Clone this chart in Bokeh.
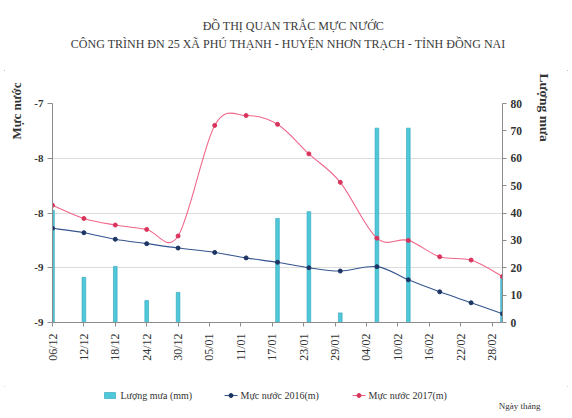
import numpy as np
from math import pi
from bokeh.plotting import figure
from bokeh.layouts import column, row
from bokeh.models import LinearAxis, Range1d, FixedTicker, Title
from bokeh.core.properties import value
from bokeh.embed import file_html
from bokeh.resources import INLINE

# ---------------- data ----------------
dates = ["2016-12-06", "2016-12-12", "2016-12-18", "2016-12-24", "2016-12-30",
         "2017-01-06", "2017-01-12", "2017-01-18", "2017-01-24", "2017-01-30",
         "2017-02-06", "2017-02-12", "2017-02-18", "2017-02-24", "2017-03-02"]
level_2016 = [-8.14, -8.18, -8.24, -8.28, -8.32, -8.36, -8.41, -8.45, -8.50, -8.53,
              -8.49, -8.61, -8.72, -8.82, -8.92]
level_2017 = [-7.93, -8.05, -8.11, -8.15, -8.21, -7.20, -7.11, -7.19, -7.46, -7.72,
              -8.23, -8.25, -8.40, -8.43, -8.58]
rain_mm = [41, 16.5, 20.5, 8, 11, 0, 0, 38, 40.5, 3.5, 71, 71, 0, 0, 16.5]

tick_dates = ["2016-12-06", "2016-12-12", "2016-12-18", "2016-12-24", "2016-12-30",
              "2017-01-05", "2017-01-11", "2017-01-17", "2017-01-23", "2017-01-29",
              "2017-02-04", "2017-02-10", "2017-02-16", "2017-02-22", "2017-02-28"]
tick_labels = ["06/12", "12/12", "18/12", "24/12", "30/12", "05/01", "11/01", "17/01",
               "23/01", "29/01", "04/02", "10/02", "16/02", "22/02", "28/02"]
level_ticks = [-9, -8.5, -8, -7.5, -7]
level_tick_labels = ["-9", "-9", "-8", "-8", "-7"]
rain_ticks = [0, 10, 20, 30, 40, 50, 60, 70, 80]

title_1 = "ĐỒ THỊ QUAN TRẮC MỰC NƯỚC"
title_2 = "CÔNG TRÌNH ĐN 25 XÃ PHÚ THẠNH - HUYỆN NHƠN TRẠCH - TỈNH ĐỒNG NAI"
left_title = "Mực nước"
right_title = "Lượng mưa"
x_title = "Ngày tháng"
series_names = ["Lượng mưa (mm)", "Mực nước 2016(m)", "Mực nước 2017(m)"]

# ---------------- style ----------------
FONT = "Liberation Serif"
DAY = 86400000.0
AX_COL = "#8c8c8c"
LAB_COL = "#333333"
BAR_FILL, BAR_LINE = "#4fc8da", "#2aa3b8"
C16, M16 = "#34558f", "#1d3563"
C17, M17 = "#f0668a", "#d9345c"


def to_ms(ds):
    return [int(v) for v in np.array(ds, dtype="datetime64[ms]").astype("int64")]


def smooth(x, y):
    n = len(x)
    out = dict(x0=[], y0=[], x1=[], y1=[], cx0=[], cy0=[], cx1=[], cy1=[])
    for i in range(n - 1):
        a = max(i - 1, 0)
        d = min(i + 2, n - 1)
        out["x0"].append(x[i]); out["y0"].append(y[i])
        out["x1"].append(x[i + 1]); out["y1"].append(y[i + 1])
        out["cx0"].append(x[i] + (x[i + 1] - x[a]) / 6)
        out["cy0"].append(y[i] + (y[i + 1] - y[a]) / 6)
        out["cx1"].append(x[i + 1] - (x[d] - x[i]) / 6)
        out["cy1"].append(y[i + 1] - (y[d] - y[i]) / 6)
    return out


def blank(w, h):
    f = figure(width=w, height=h, output_backend="svg", toolbar_location=None, title=None,
               x_range=Range1d(0, w), y_range=Range1d(0, h),
               x_axis_location=None, y_axis_location=None,
               min_border=0, min_border_left=0, min_border_right=0,
               min_border_top=0, min_border_bottom=0,
               background_fill_color="white", border_fill_color="white",
               outline_line_color=None)
    f.grid.visible = False
    return f


def put_text(f, h, x, y_down, txt, size, angle=0.0, align="center", bold=False,
             color=LAB_COL):
    f.text(x=[x], y=[h - y_down], text=[txt], angle=angle,
           text_font=value(FONT), text_font_size=value(size),
           text_font_style="bold" if bold else "normal",
           text_align=align, text_baseline="middle", text_color=color)


W, H = 572, 418
TOP_H, BOT_H = 70, 32
MID_H = H - TOP_H - BOT_H

# ---------------- titles ----------------
top = blank(W, TOP_H)
put_text(top, TOP_H, 293, 25.5, title_1, "12px", color="#3a3a3a")
put_text(top, TOP_H, 288, 43.5, title_2, "12px", color="#3a3a3a")

# ---------------- main chart ----------------
xs = to_ms(dates)
tick_ms = to_ms(tick_dates)

FRAME_L, FRAME_R, FRAME_T, FRAME_B = 52, 502, 103, 322
p = figure(width=W, height=MID_H, output_backend="svg", toolbar_location=None, title=None,
           x_range=Range1d(xs[0], xs[-1]), y_range=Range1d(-9, -7),
           min_border_left=FRAME_L, min_border_right=W - FRAME_R,
           min_border_top=FRAME_T - TOP_H, min_border_bottom=TOP_H + MID_H - FRAME_B,
           background_fill_color="white", border_fill_color="white",
           outline_line_color=None)
p.extra_y_ranges = {"rain": Range1d(0, 80)}

xa = p.xaxis[0]
xa.ticker = FixedTicker(ticks=tick_ms)
xa.major_label_overrides = {t: l for t, l in zip(tick_ms, tick_labels)}
xa.major_label_orientation = pi / 2
xa.major_label_text_font = FONT
xa.major_label_text_font_size = "12px"
xa.major_label_text_color = LAB_COL
xa.axis_line_color = AX_COL
xa.major_tick_line_color = AX_COL
xa.major_tick_out = 4
xa.major_tick_in = 0
xa.minor_tick_line_color = None
xa.major_label_standoff = 7

ya = p.yaxis[0]
ya.ticker = FixedTicker(ticks=level_ticks)
ya.major_label_overrides = {float(t): l for t, l in zip(level_ticks, level_tick_labels)}
ya.major_label_text_font = FONT
ya.major_label_text_font_size = "11px"
ya.major_label_text_font_style = "bold"
ya.major_label_text_color = LAB_COL
ya.axis_line_color = AX_COL
ya.major_tick_line_color = AX_COL
ya.major_tick_out = 5
ya.major_tick_in = 0
ya.minor_tick_line_color = None
ya.major_label_standoff = 4

ra = LinearAxis(y_range_name="rain", ticker=FixedTicker(ticks=rain_ticks))
ra.major_label_text_font = FONT
ra.major_label_text_font_size = "11.5px"
ra.major_label_text_font_style = "bold"
ra.major_label_text_color = LAB_COL
ra.axis_line_color = AX_COL
ra.major_tick_line_color = AX_COL
ra.major_tick_out = 4
ra.major_tick_in = 0
ra.minor_tick_line_color = None
ra.major_label_standoff = 4
p.add_layout(ra, "right")

# axis titles near the top of each axis
lt = Title(text=left_title, align="right", vertical_align="middle", offset=82 - FRAME_T,
           standoff=14, text_font=FONT, text_font_size="13px", text_font_style="bold",
           text_color=LAB_COL)
p.add_layout(lt, "left")
rt = Title(text=right_title, align="left", vertical_align="middle", offset=73 - FRAME_T,
           standoff=21, text_font=FONT, text_font_size="13.5px", text_font_style="bold",
           text_color=LAB_COL)
p.add_layout(rt, "right")

p.xgrid.visible = False
p.ygrid.ticker = FixedTicker(ticks=level_ticks)
p.ygrid.grid_line_color = "#dcdcdc"

p.vbar(x=xs, top=rain_mm, bottom=0, width=0.7 * DAY, y_range_name="rain",
       fill_color=BAR_FILL, line_color=BAR_LINE, line_width=0.6)
p.bezier(line_color=C16, line_width=1.1, **smooth(xs, level_2016))
p.scatter(xs, level_2016, size=4, marker="circle", fill_color=M16, line_color=M16)
p.bezier(line_color=C17, line_width=1.1, **smooth(xs, level_2017))
p.scatter(xs, level_2017, size=4, marker="circle", fill_color=M17, line_color=M17)

# ---------------- legend strip ----------------
bot = blank(W, BOT_H)
LY = 395 - (H - BOT_H)
ly = BOT_H - LY
bot.rect(x=[109.5], y=[ly], width=11, height=6, fill_color=BAR_FILL, line_color=BAR_LINE,
         line_width=0.6)
put_text(bot, BOT_H, 120, LY, series_names[0], "10px", align="left")
bot.line(x=[224, 237], y=[ly, ly], line_color=C16, line_width=1.1)
bot.scatter(x=[230.5], y=[ly], size=4, marker="circle", fill_color=M16, line_color=M16)
put_text(bot, BOT_H, 240, LY, series_names[1], "10px", align="left")
bot.line(x=[352, 365], y=[ly, ly], line_color=C17, line_width=1.1)
bot.scatter(x=[358.5], y=[ly], size=4, marker="circle", fill_color=M17, line_color=M17)
put_text(bot, BOT_H, 368, LY, series_names[2], "10px", align="left")
put_text(bot, BOT_H, 540, 405 - (H - BOT_H), x_title, "9px", align="right")

layout = column(top, row(p), bot,
                styles={"outline": "1px solid #a8a8a8", "outline-offset": "-5px"})
open("out.html", "w").write(file_html(layout, INLINE, title=""))
